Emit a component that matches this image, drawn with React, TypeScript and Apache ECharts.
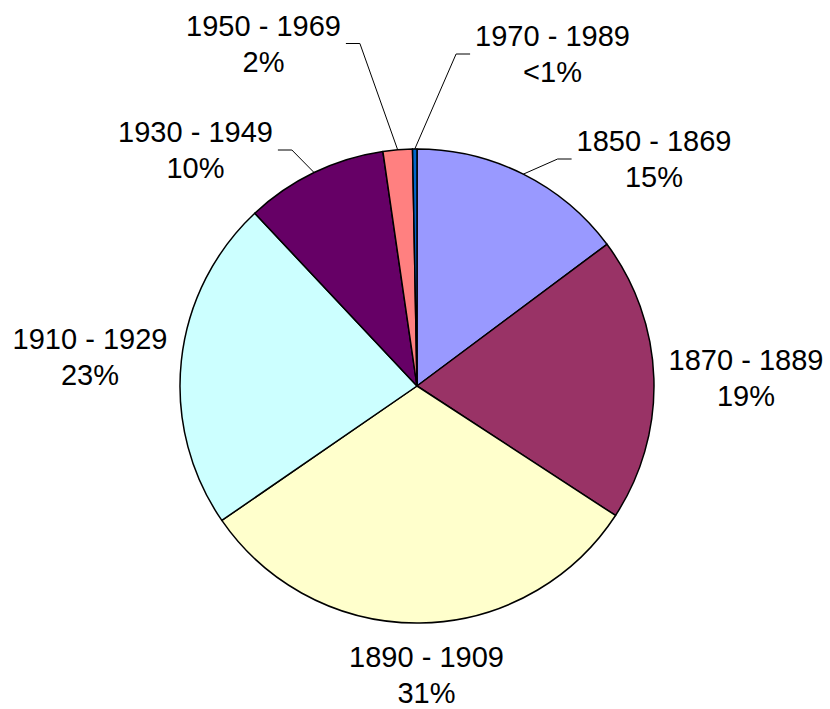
import React, { useEffect, useRef } from 'react';
import * as echarts from 'echarts';

// ---- data ----
const categories = ['1850 - 1869', '1870 - 1889', '1890 - 1909', '1910 - 1929', '1930 - 1949', '1950 - 1969', '1970 - 1989'];
const values = [14.8, 19.4, 31.2, 22.6, 9.7, 2.0, 0.3];
const colors = ['#9999FF', '#993366', '#FFFFCC', '#CCFFFF', '#660066', '#FF8080', '#0066CC'];

// ---- layout ----
const CENTER: [number, number] = [417, 386];
const RADIUS = 237;
const labelCenters: [number, number][] = [
  [654, 159],
  [746, 377.5],
  [426.5, 675],
  [90, 357],
  [195.5, 150],
  [263.5, 43.5],
  [552.5, 54],
];
const leaderSides: (string | null)[] = ['left', null, null, null, 'right', 'right', 'left'];

export default function App() {
  const ref = useRef<HTMLDivElement>(null);
  useEffect(() => {
    const chart = echarts.init(ref.current as HTMLDivElement, null, { renderer: 'svg' });
    const total = values.reduce((a, b) => a + b, 0);
    const mids: number[] = [];
    let acc = 0;
    values.forEach((v) => {
      mids.push(acc + v / 2);
      acc += v;
    });
    const edgePoint = (i: number) => {
      const th = (2 * Math.PI * mids[i]) / total;
      return [CENTER[0] + RADIUS * Math.sin(th), CENTER[1] - RADIUS * Math.cos(th)];
    };
    chart.setOption({
      animation: false,
      backgroundColor: '#ffffff',
      series: [
        {
          type: 'pie',
          center: CENTER,
          radius: RADIUS,
          startAngle: 90,
          clockwise: true,
          avoidLabelOverlap: false,
          emphasis: { disabled: true },
          itemStyle: { borderColor: '#000000', borderWidth: 1.5 },
          data: categories.map((name, i) => ({
            name,
            value: values[i],
            itemStyle: { color: colors[i] },
            labelLine: { show: leaderSides[i] != null },
          })),
          label: {
            show: true,
            position: 'outside',
            color: '#000000',
            fontSize: 29,
            lineHeight: 36,
            fontFamily: '"Liberation Sans", Arial, sans-serif',
            align: 'center',
            formatter: (p: any) => {
              const pct = p.percent < 1 ? '<1%' : Math.round(p.percent) + '%';
              return p.name + '\n' + pct;
            },
          },
          labelLine: { show: true, length: 10, length2: 10, lineStyle: { color: '#000000', width: 1 } },
          labelLayout: (params: any) => {
            const i = params.dataIndex;
            const [lx, ly] = labelCenters[i];
            const res: any = { x: lx, y: ly, align: 'center', verticalAlign: 'middle' };
            const side = leaderSides[i];
            if (side) {
              const w = params.labelRect.width;
              const e = edgePoint(i);
              if (side === 'left') {
                const x0 = lx - w / 2 - 5;
                res.labelLinePoints = [e, [x0 - 14, ly], [x0, ly]];
              } else {
                const x0 = lx + w / 2 + 5;
                res.labelLinePoints = [e, [x0 + 14, ly], [x0, ly]];
              }
            }
            return res;
          },
        },
      ],
    });
    return () => chart.dispose();
  }, []);
  return <div ref={ref} style={{ position: 'fixed', left: 0, top: 0, width: 830, height: 709 }} />;
}
